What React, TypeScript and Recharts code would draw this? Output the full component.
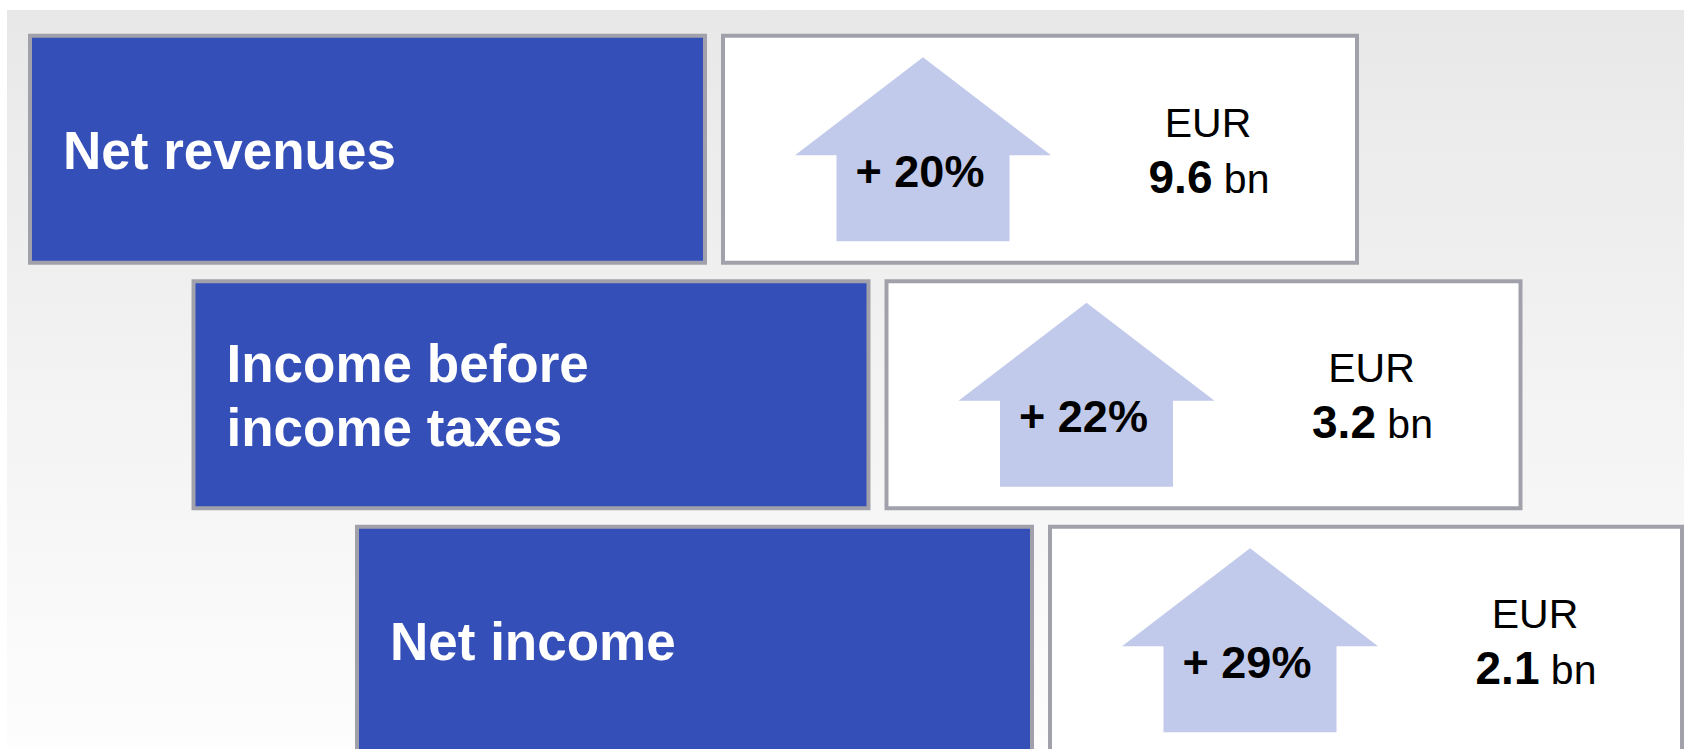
import { BarChart, Bar, XAxis, YAxis } from 'recharts';

// key figures, one entry per row
const metrics = ['Net revenues', 'Income before\nincome taxes', 'Net income'];
const growthPct = [20, 22, 29];
const valueBn = [9.6, 3.2, 2.1];
const currency = 'EUR';

// staircase layout (chart units = pixels)
const ROW_START = 28;
const ROW_STEP = 163.5;
const LABEL_W = 679;
const GAP_W = 14;
const VALUE_W = 638;

const BLUE = '#354fb9';
const BORDER = '#a1a1ab';
const ARROW = '#c1caea';
const FONT = '"Liberation Sans", Arial, sans-serif';

const rows = metrics.map((metric, i) => ({
  metric,
  growth: growthPct[i],
  value: valueBn[i],
  indent: ROW_START + ROW_STEP * i,
  labelBox: LABEL_W,
  gap: GAP_W,
  valueBox: VALUE_W,
}));

function LabelBox(props: any) {
  const { x, y, width, height, payload } = props;
  const lines: string[] = payload.metric.split('\n');
  return (
    <g>
      <rect
        x={x + 2}
        y={y + 2}
        width={width - 4}
        height={height - 4}
        fill={BLUE}
        stroke={BORDER}
        strokeWidth={4}
      />
      {lines.map((line, k) => (
        <text
          key={line}
          x={x + 35}
          y={y + 135 + (k - (lines.length - 1) / 2) * 64}
          fill="#ffffff"
          fontFamily={FONT}
          fontWeight="bold"
          fontSize={53}
        >
          {line}
        </text>
      ))}
    </g>
  );
}

function ValueBox(props: any) {
  const { x, y, width, height, payload } = props;
  const cx = x + 202;
  const tip = y + 23.5;
  const wing = y + 121.5;
  const base = y + 207.5;
  const arrow = [
    [cx, tip],
    [cx + 128, wing],
    [cx + 86.5, wing],
    [cx + 86.5, base],
    [cx - 86.5, base],
    [cx - 86.5, wing],
    [cx - 128, wing],
  ]
    .map((p) => p.join(','))
    .join(' ');

  return (
    <g>
      <rect
        x={x + 2}
        y={y + 2}
        width={width - 4}
        height={height - 4}
        fill="#ffffff"
        stroke={BORDER}
        strokeWidth={4}
      />
      <polygon points={arrow} fill={ARROW} />
      <text
        x={cx - 3}
        y={y + 153}
        textAnchor="middle"
        fill="#000"
        fontFamily={FONT}
        fontWeight="bold"
        fontSize={45}
      >
        {`+ ${payload.growth}%`}
      </text>
      <text
        x={x + 487}
        y={y + 103}
        textAnchor="middle"
        fill="#000"
        fontFamily={FONT}
        fontSize={41}
      >
        {currency}
      </text>
      <text
        x={x + 488}
        y={y + 159}
        textAnchor="middle"
        fill="#000"
        fontFamily={FONT}
      >
        <tspan fontWeight="bold" fontSize={46}>
          {payload.value.toFixed(1)}
        </tspan>
        <tspan fontSize={41}> bn</tspan>
      </text>
    </g>
  );
}

export default function App() {
  return (
    <div
      style={{
        position: 'absolute',
        left: 0,
        top: 0,
        width: 1684,
        height: 749,
        overflow: 'hidden',
        background: '#ffffff',
      }}
    >
      <div
        style={{
          position: 'absolute',
          left: 7,
          top: 10,
          right: 0,
          bottom: 0,
          background: 'linear-gradient(#e8e8e8, #fdfdfd)',
        }}
      />
      <div style={{ position: 'absolute', left: 0, top: 0 }}>
        <BarChart
          width={1684}
          height={774}
          data={rows}
          layout="vertical"
          barSize={231}
          margin={{ top: 26.75, right: 0, bottom: 10.75, left: 0 }}
        >
          <XAxis type="number" domain={[0, 1684]} allowDataOverflow hide />
          <YAxis type="category" dataKey="metric" hide />
          <Bar dataKey="indent" stackId="row" fill="transparent" isAnimationActive={false} />
          <Bar
            dataKey="labelBox"
            stackId="row"
            shape={<LabelBox />}
            isAnimationActive={false}
          />
          <Bar dataKey="gap" stackId="row" fill="transparent" isAnimationActive={false} />
          <Bar
            dataKey="valueBox"
            stackId="row"
            shape={<ValueBox />}
            isAnimationActive={false}
          />
        </BarChart>
      </div>
    </div>
  );
}
